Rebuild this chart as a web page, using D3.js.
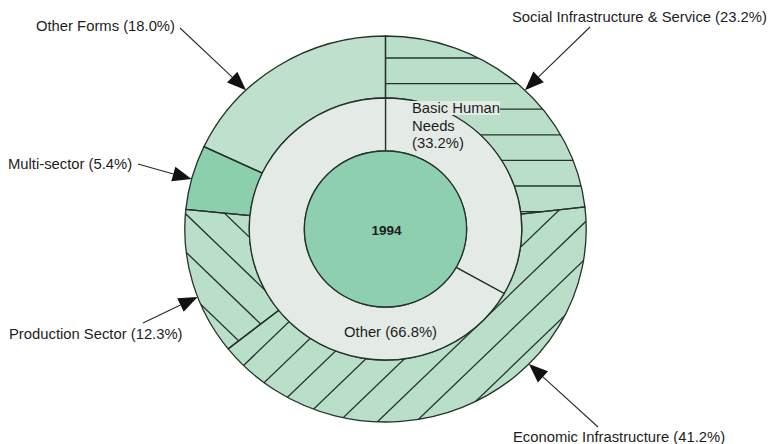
<html>
<head>
<script src="https://d3js.org/d3.v7.min.js"></script>
<style>
    body { margin: 0; background: #fff; }
    svg text { font-family: "Liberation Sans", Arial, sans-serif; fill: #1d1d1d; }
</style>
</head>
<body>
<svg id="chart" width="776" height="444"></svg>
<script>
// 1994 aid split: inner ring and outer ring, values in percent
const centerLabel = "1994";
const innerCats = ["Basic Human Needs", "Other"];
const innerVals = [33.2, 66.8];
const outerCats = ["Social Infrastructure & Service", "Economic Infrastructure", "Production Sector", "Multi-sector", "Other Forms"];
const outerVals = [23.2, 41.2, 12.3, 5.4, 18.0];

const cx = 385.5, cy = 229, sx = 1.04;   // the scan is a touch wider than tall
const r0 = 78, r1 = 131, r2 = 193;
const lineCol = "#24322c";

const outerFill = ["#badfc9", "#badfc9", "#badfc9", "#8ccfad", "#bee0cc"];
const innerFill = "#e4ebe6";
const centerFill = "#8ecfb0";
const hatch = [
    { type: "h", step: 25.6, phase: 8.2 },
    { type: "/", step: 37, phase: 0 },
    { type: "\\", step: 38, phase: 25 },
    null,
    null
];

// where each outer label sits, where its leader starts, and the angle it points at
const outerLayout = [
    { x: 512, y: 22, lx: 590, ly: 27, a: 44 },
    { x: 513, y: 442, lx: 598, ly: 427, a: 134.4 },
    { x: 9, y: 339, lx: 143, ly: 323, a: 249.4 },
    { x: 8, y: 169, lx: 138, ly: 164, a: 285 },
    { x: 36, y: 31, lx: 180, ly: 28, a: 316 }
];
const innerLayout = [
    { x: 412, y: 113, anchor: "start", wrap: 11 },
    { x: 390.5, y: 337, anchor: "middle", wrap: 40 }
];

const svg = d3.select("#chart");
const defs = svg.append("defs");
const g = svg.append("g").attr("transform", `translate(${cx},${cy}) scale(${sx},1)`);

const pie = d3.pie().sort(null).value(d => d);
const outerArc = d3.arc().innerRadius(r1).outerRadius(r2);
const innerArc = d3.arc().innerRadius(r0).outerRadius(r1);
const outerPie = pie(outerVals);
const innerPie = pie(innerVals);

// outer ring fills
g.selectAll("path.outer")
    .data(outerPie)
    .join("path")
    .attr("class", "outer")
    .attr("d", outerArc)
    .attr("fill", (d, i) => outerFill[i]);

defs.selectAll("clipPath")
    .data(outerPie)
    .join("clipPath")
    .attr("id", (d, i) => `clip${i}`)
    .append("path")
    .attr("d", outerArc);

// hatching, clipped to each slice
outerPie.forEach((d, i) => {
    const h = hatch[i];
    if (!h) return;
    const R = r2 * 2;
    const ks = d3.range(Math.floor((-R - h.phase) / h.step), Math.ceil((R - h.phase) / h.step) + 1);
    const segs = ks.map(k => {
        const c = h.phase + k * h.step;
        if (h.type === "h") return [[-R, c], [R, c]];
        if (h.type === "/") return [[-R, c + R], [R, c - R]];
        return [[-R, c - R], [R, c + R]];
    });
    g.append("g")
        .attr("clip-path", `url(#clip${i})`)
        .selectAll("line")
        .data(segs)
        .join("line")
        .attr("x1", s => s[0][0]).attr("y1", s => s[0][1])
        .attr("x2", s => s[1][0]).attr("y2", s => s[1][1])
        .attr("stroke", lineCol)
        .attr("stroke-width", 1.3)
        .attr("vector-effect", "non-scaling-stroke");
});

g.selectAll("path.outline")
    .data(outerPie)
    .join("path")
    .attr("class", "outline")
    .attr("d", outerArc)
    .attr("fill", "none")
    .attr("stroke", lineCol)
    .attr("stroke-width", 1.3)
    .attr("vector-effect", "non-scaling-stroke");

g.selectAll("path.inner")
    .data(innerPie)
    .join("path")
    .attr("class", "inner")
    .attr("d", innerArc)
    .attr("fill", innerFill)
    .attr("stroke", lineCol)
    .attr("stroke-width", 1.3)
    .attr("vector-effect", "non-scaling-stroke");

g.append("circle")
    .attr("r", r0)
    .attr("fill", centerFill)
    .attr("stroke", lineCol)
    .attr("stroke-width", 1.3)
    .attr("vector-effect", "non-scaling-stroke");

svg.append("text")
    .attr("x", cx + 1)
    .attr("y", cy + 6)
    .attr("text-anchor", "middle")
    .attr("font-size", 13.5)
    .attr("font-weight", "bold")
    .text(centerLabel);

function wrap(s, n) {
    const out = [];
    s.split(" ").forEach(w => {
        const last = out[out.length - 1];
        if (last && (last + " " + w).length <= n) out[out.length - 1] = last + " " + w;
        else out.push(w);
    });
    return out;
}

// inner ring labels
innerCats.forEach((c, i) => {
    const L = innerLayout[i];
    const lines = wrap(c, L.wrap);
    if (L.wrap > 20) lines[lines.length - 1] += ` (${innerVals[i].toFixed(1)}%)`;
    else lines.push(`(${innerVals[i].toFixed(1)}%)`);
    lines.forEach((t, j) => {
        const txt = svg.append("text")
            .attr("x", L.x)
            .attr("y", L.y + j * 17.5)
            .attr("text-anchor", L.anchor)
            .attr("font-size", 14.8)
            .text(t);
        if (i === 0 && j === 0) {
            // first line spills over the ring edge, knock the lines out behind it
            const b = txt.node().getBBox();
            svg.insert("rect", "text")
                .attr("x", b.x - 4).attr("y", b.y + 1)
                .attr("width", b.width + 4).attr("height", b.height - 2)
                .attr("fill", innerFill);
        }
    });
});

// outer labels with arrows
const arrowLen = 19, arrowHalf = 7.5;
outerCats.forEach((c, i) => {
    const L = outerLayout[i];
    svg.append("text")
        .attr("x", L.x)
        .attr("y", L.y)
        .attr("font-size", 14.8)
        .text(`${c} (${outerVals[i].toFixed(1)}%)`);

    const a = L.a * Math.PI / 180;
    const tx = cx + sx * r2 * Math.sin(a);
    const ty = cy - r2 * Math.cos(a);
    const dx = tx - L.lx, dy = ty - L.ly;
    const len = Math.hypot(dx, dy);
    const ux = dx / len, uy = dy / len;
    const bx = tx - ux * arrowLen, by = ty - uy * arrowLen;

    svg.append("line")
        .attr("x1", L.lx).attr("y1", L.ly)
        .attr("x2", bx).attr("y2", by)
        .attr("stroke", "#2a2a2a")
        .attr("stroke-width", 1.1);
    svg.append("polygon")
        .attr("points", [
            [tx, ty],
            [bx - uy * arrowHalf, by + ux * arrowHalf],
            [bx + uy * arrowHalf, by - ux * arrowHalf]
        ].map(p => p.join(",")).join(" "))
        .attr("fill", "#111");
});
</script>
</body>
</html>
